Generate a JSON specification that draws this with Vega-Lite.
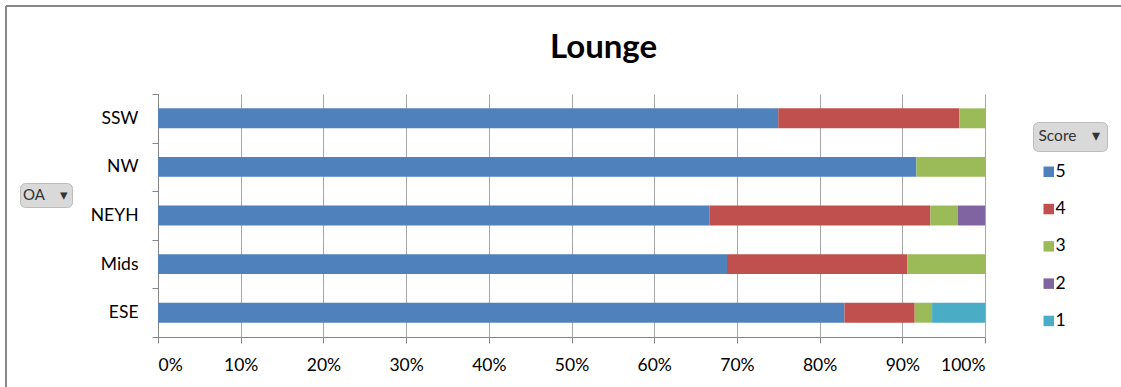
{
  "$schema": "https://vega.github.io/schema/vega-lite/v6.json",
  "width": 1115,
  "height": 419,
  "padding": {"left": 6, "top": 6, "right": 0, "bottom": -38},
  "autosize": {"type": "none"},
  "background": "white",
  "title": {
    "text": "Lounge",
    "anchor": "middle",
    "frame": "group",
    "font": "Lato",
    "fontSize": 33,
    "fontWeight": "bold",
    "color": "#000000",
    "baseline": "alphabetic",
    "dx": 40,
    "dy": 98
  },
  "config": {
    "view": {
      "stroke": "#868686",
      "strokeWidth": 2,
      "strokeDash": [1115, 1534, 419, 0]
    },
    "font": "Lato"
  },
  "data": {
    "values": [
      {"OA": "SSW", "Score": "5", "pct": 75.0},
      {"OA": "SSW", "Score": "4", "pct": 21.9},
      {"OA": "SSW", "Score": "3", "pct": 3.1},
      {"OA": "NW", "Score": "5", "pct": 91.7},
      {"OA": "NW", "Score": "3", "pct": 8.3},
      {"OA": "NEYH", "Score": "5", "pct": 66.7},
      {"OA": "NEYH", "Score": "4", "pct": 26.7},
      {"OA": "NEYH", "Score": "3", "pct": 3.3},
      {"OA": "NEYH", "Score": "2", "pct": 3.3},
      {"OA": "Mids", "Score": "5", "pct": 68.8},
      {"OA": "Mids", "Score": "4", "pct": 21.8},
      {"OA": "Mids", "Score": "3", "pct": 9.4},
      {"OA": "ESE", "Score": "5", "pct": 83.0},
      {"OA": "ESE", "Score": "4", "pct": 8.5},
      {"OA": "ESE", "Score": "3", "pct": 2.1},
      {"OA": "ESE", "Score": "1", "pct": 6.4}
    ]
  },
  "layer": [
    {
      "mark": {"type": "bar", "height": {"band": 0.41}},
      "encoding": {
        "y": {
          "field": "OA",
          "type": "nominal",
          "sort": ["SSW", "NW", "NEYH", "Mids", "ESE"],
          "scale": {"range": [88, 331], "paddingInner": 0, "paddingOuter": 0},
          "axis": {
            "title": null,
            "offset": -152,
            "domainColor": "#868686",
            "tickColor": "#868686",
            "tickSize": 6,
            "tickBand": "extent",
            "labelPadding": 14,
            "labelFont": "Lato",
            "labelFontSize": 17.5,
            "labelColor": "#000000",
            "grid": false
          }
        },
        "x": {
          "field": "pct",
          "type": "quantitative",
          "stack": "normalize",
          "scale": {"range": [152, 979], "domain": [0, 1]},
          "axis": {
            "title": null,
            "offset": -88,
            "values": [0, 0.1, 0.2, 0.3, 0.4, 0.5, 0.6, 0.7, 0.8, 0.9, 1],
            "format": ".0%",
            "domainColor": "#868686",
            "tickColor": "#868686",
            "tickSize": 6,
            "labelPadding": 13,
            "labelFont": "Lato",
            "labelFontSize": 17.5,
            "labelColor": "#000000",
            "grid": true,
            "gridColor": "#a6a6a6",
            "gridWidth": 1
          }
        },
        "color": {
          "field": "Score",
          "type": "nominal",
          "scale": {
            "domain": ["5", "4", "3", "2", "1"],
            "range": ["#4F81BD", "#C0504D", "#9BBB59", "#8064A2", "#4BACC6"]
          },
          "legend": {
            "title": null,
            "orient": "none",
            "legendX": 1034,
            "legendY": 157,
            "symbolType": "square",
            "symbolSize": 110,
            "symbolStrokeWidth": 0,
            "labelOffset": -2,
            "rowPadding": 18.3,
            "labelFont": "Lato",
            "labelFontSize": 17.5,
            "labelColor": "#000000"
          }
        },
        "order": {"field": "Score", "sort": "descending"}
      }
    },
    {
      "mark": {"type": "point", "opacity": 0},
      "encoding": {
        "shape": {
          "datum": "Score",
          "legend": {
            "title": null,
            "orient": "none",
            "legendX": 1027,
            "legendY": 116,
            "padding": 6,
            "fillColor": "#d9d9d9",
            "strokeColor": "#bcbcbc",
            "cornerRadius": 5,
            "symbolSize": 0,
            "symbolStrokeWidth": 0,
            "labelOffset": -16,
            "labelFont": "Lato",
            "labelFontSize": 15.5,
            "labelColor": "#333333",
            "labelExpr": "datum.label + '\u00a0\u00a0\u00a0\u00a0▾\u00a0\u00a0'"
          }
        }
      }
    },
    {
      "mark": {"type": "point", "opacity": 0},
      "encoding": {
        "shape": {
          "datum": "OA",
          "legend": {
            "title": null,
            "orient": "none",
            "legendX": 14,
            "legendY": 177,
            "padding": 4,
            "fillColor": "#d9d9d9",
            "strokeColor": "#bcbcbc",
            "cornerRadius": 5,
            "symbolSize": 0,
            "symbolStrokeWidth": 0,
            "labelOffset": -16,
            "labelFont": "Lato",
            "labelFontSize": 15,
            "labelColor": "#333333",
            "labelExpr": "datum.label + '\u00a0\u00a0\u00a0\u00a0▾\u00a0'"
          }
        }
      }
    }
  ],
  "resolve": {"scale": {"shape": "independent"}}
}
